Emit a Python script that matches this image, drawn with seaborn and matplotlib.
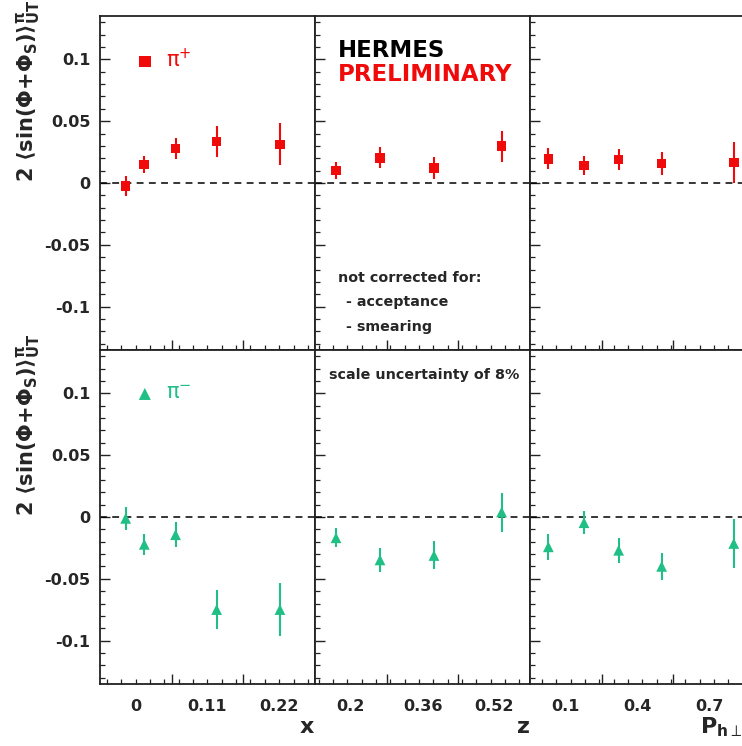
import numpy as np
import pandas as pd
import matplotlib
matplotlib.use("Agg")
import matplotlib.pyplot as plt
import seaborn as sns
from matplotlib.ticker import MultipleLocator

# Bin centres, expressed in the units of the tick labels of each panel
x_bins = [-0.0156, 0.0130, 0.0610, 0.1240, 0.2212]
z_bins = [0.1669, 0.2651, 0.3856, 0.5366]
pt_bins = [0.0268, 0.176, 0.321, 0.501, 0.803]

# pi+ asymmetries and statistical errors
pip_x = [-0.0024, 0.0151, 0.0280, 0.0336, 0.0312]
pip_x_err = [0.0080, 0.0070, 0.0087, 0.0125, 0.0170]
pip_z = [0.0102, 0.0204, 0.0121, 0.0298]
pip_z_err = [0.0066, 0.0083, 0.0091, 0.0125]
pip_pt = [0.0196, 0.0142, 0.0191, 0.0159, 0.0167]
pip_pt_err = [0.0085, 0.0078, 0.0087, 0.0091, 0.0165]

# pi- asymmetries and statistical errors
pim_x = [-0.0011, -0.0221, -0.0143, -0.0748, -0.0748]
pim_x_err = [0.0094, 0.0084, 0.0100, 0.0158, 0.0212]
pim_z = [-0.0168, -0.0347, -0.0311, 0.0040]
pim_z_err = [0.0076, 0.0098, 0.0113, 0.0158]
pim_pt = [-0.0241, -0.0046, -0.0269, -0.0399, -0.0214]
pim_pt_err = [0.0105, 0.0091, 0.0100, 0.0107, 0.0198]

# Tick labels of the three kinematic axes
x_ticklabels = ["0", "0.11", "0.22"]
z_ticklabels = ["0.2", "0.36", "0.52"]
pt_ticklabels = ["0.1", "0.4", "0.7"]
axis_titles = [r"$\mathbf{x}$", r"$\mathbf{z}$", r"$\mathbf{P}_{\mathbf{h}\perp}$"]

y_ticks = [-0.1, -0.05, 0, 0.05, 0.1]
y_ticklabels = ["-0.1", "-0.05", "0", "0.05", "0.1"]

RED = "#f00a0a"
GREEN = "#1fbf86"

sns.set_style("white")
plt.rcParams["font.family"] = ["DejaVu Sans"]
plt.rcParams["mathtext.fontset"] = "dejavusans"

fig = plt.figure(figsize=(7.42, 7.46), dpi=100)
W, H = 742.0, 746.0

col_left = [100, 315, 530]
col_w = 215
row_top = [16, 350]
row_h = 334

panels = [
    (x_bins, x_ticklabels),
    (z_bins, z_ticklabels),
    (pt_bins, pt_ticklabels),
]
label_values = [[float(v) for v in lab] for _, lab in panels]

series = [
    [(pip_x, pip_x_err), (pip_z, pip_z_err), (pip_pt, pip_pt_err)],
    [(pim_x, pim_x_err), (pim_z, pim_z_err), (pim_pt, pim_pt_err)],
]
styles = [("s", RED, r"$\mathrm{\pi}^{+}$"), ("^", GREEN, r"$\mathrm{\pi}^{-}$")]

ylab = r"$\mathbf{2\ \langle sin(\Phi{+}\Phi_S)\rangle^{\pi}_{UT}}$"

for r in range(2):
    for c in range(3):
        left = col_left[c] / W
        bottom = (H - row_top[r] - row_h) / H
        ax = fig.add_axes([left, bottom, col_w / W, row_h / H])
        bins, labels = panels[c]
        vals = label_values[c]
        step = vals[1] - vals[0]
        lo = vals[0] - 0.5 * step
        hi = vals[-1] + 0.5 * step
        yv, ye = series[r][c]
        marker, color, name = styles[r]
        df = pd.DataFrame({"pos": bins, "asym": yv, "err": ye})

        ax.axhline(0, color="black", lw=1.1, ls=(0, (4.5, 3.5)), zorder=1)
        ax.errorbar(df["pos"], df["asym"], yerr=df["err"], fmt="none",
                    ecolor=color, elinewidth=1.5, capsize=0, zorder=2)
        sns.scatterplot(data=df, x="pos", y="asym", marker=marker, color=color,
                        s=48 if marker == "s" else 60, edgecolor="none",
                        linewidth=0, ax=ax, zorder=3, legend=False)

        ax.set_xlim(lo, hi)
        ax.set_ylim(-0.135, 0.135)
        ax.set_xlabel("")
        ax.set_ylabel("")

        # long ticks between the labelled positions, short ticks every fifth
        ax.set_xticks([lo + step, lo + 2 * step])
        ax.xaxis.set_minor_locator(MultipleLocator(step / 5))
        ax.set_xticklabels([])
        ax.set_yticks(y_ticks)
        ax.yaxis.set_minor_locator(MultipleLocator(0.01))
        ax.tick_params(axis="both", which="major", direction="in", length=7.5,
                       width=1.0, color="#222222", top=False, right=False,
                       bottom=True, left=True)
        ax.tick_params(axis="both", which="minor", direction="in", length=3.8,
                       width=0.9, color="#222222", top=False, right=False,
                       bottom=True, left=True)
        if c == 0:
            ax.set_yticklabels(y_ticklabels, fontweight="bold")
            ax.tick_params(axis="y", which="major", labelsize=11.5, pad=7)
            ax.text(-0.335, 1.048, ylab, transform=ax.transAxes, rotation=90,
                    ha="center", va="top", fontsize=15)
        else:
            ax.set_yticklabels([])

        if r == 1:
            sec = ax.secondary_xaxis("bottom")
            sec.set_xticks(vals)
            sec.set_xticklabels(labels, fontweight="bold")
            sec.tick_params(length=0, labelsize=11.5, pad=11)
            sec.spines["bottom"].set_visible(False)
            xr = 1.0 if c < 2 else 0.99
            ax.text(xr, -0.128, axis_titles[c], transform=ax.transAxes,
                    ha="right", va="center", fontsize=16)

        for sp in ax.spines.values():
            sp.set_color("#222222")
            sp.set_linewidth(1.3)

        if c == 0:
            h = ax.scatter([], [], marker=marker, color=color,
                           s=70 if marker == "s" else 75, edgecolor="none",
                           label=name)
            leg = ax.legend(handles=[h], loc="center left",
                            bbox_to_anchor=(0.16, 0.870), frameon=False,
                            borderpad=0, borderaxespad=0, handlelength=1.0,
                            handletextpad=0.5, fontsize=15)
            for t in leg.get_texts():
                t.set_color(color)

        if r == 0 and c == 1:
            ax.text(0.107, 0.898, "HERMES", transform=ax.transAxes,
                    fontsize=16.5, fontweight="bold", color="black",
                    ha="left", va="center")
            ax.text(0.107, 0.826, "PRELIMINARY", transform=ax.transAxes,
                    fontsize=16.5, fontweight="bold", color=RED,
                    ha="left", va="center")
            ax.text(0.107, 0.216, "not corrected for:", transform=ax.transAxes,
                    fontsize=10.3, fontweight="bold", ha="left", va="center")
            ax.text(0.145, 0.144, "- acceptance", transform=ax.transAxes,
                    fontsize=10.3, fontweight="bold", ha="left", va="center")
            ax.text(0.145, 0.069, "- smearing", transform=ax.transAxes,
                    fontsize=10.3, fontweight="bold", ha="left", va="center")
        if r == 1 and c == 1:
            ax.text(0.065, 0.925, "scale uncertainty of 8%",
                    transform=ax.transAxes, fontsize=10.3, fontweight="bold",
                    ha="left", va="center")

fig.savefig("out.png", dpi=100)
